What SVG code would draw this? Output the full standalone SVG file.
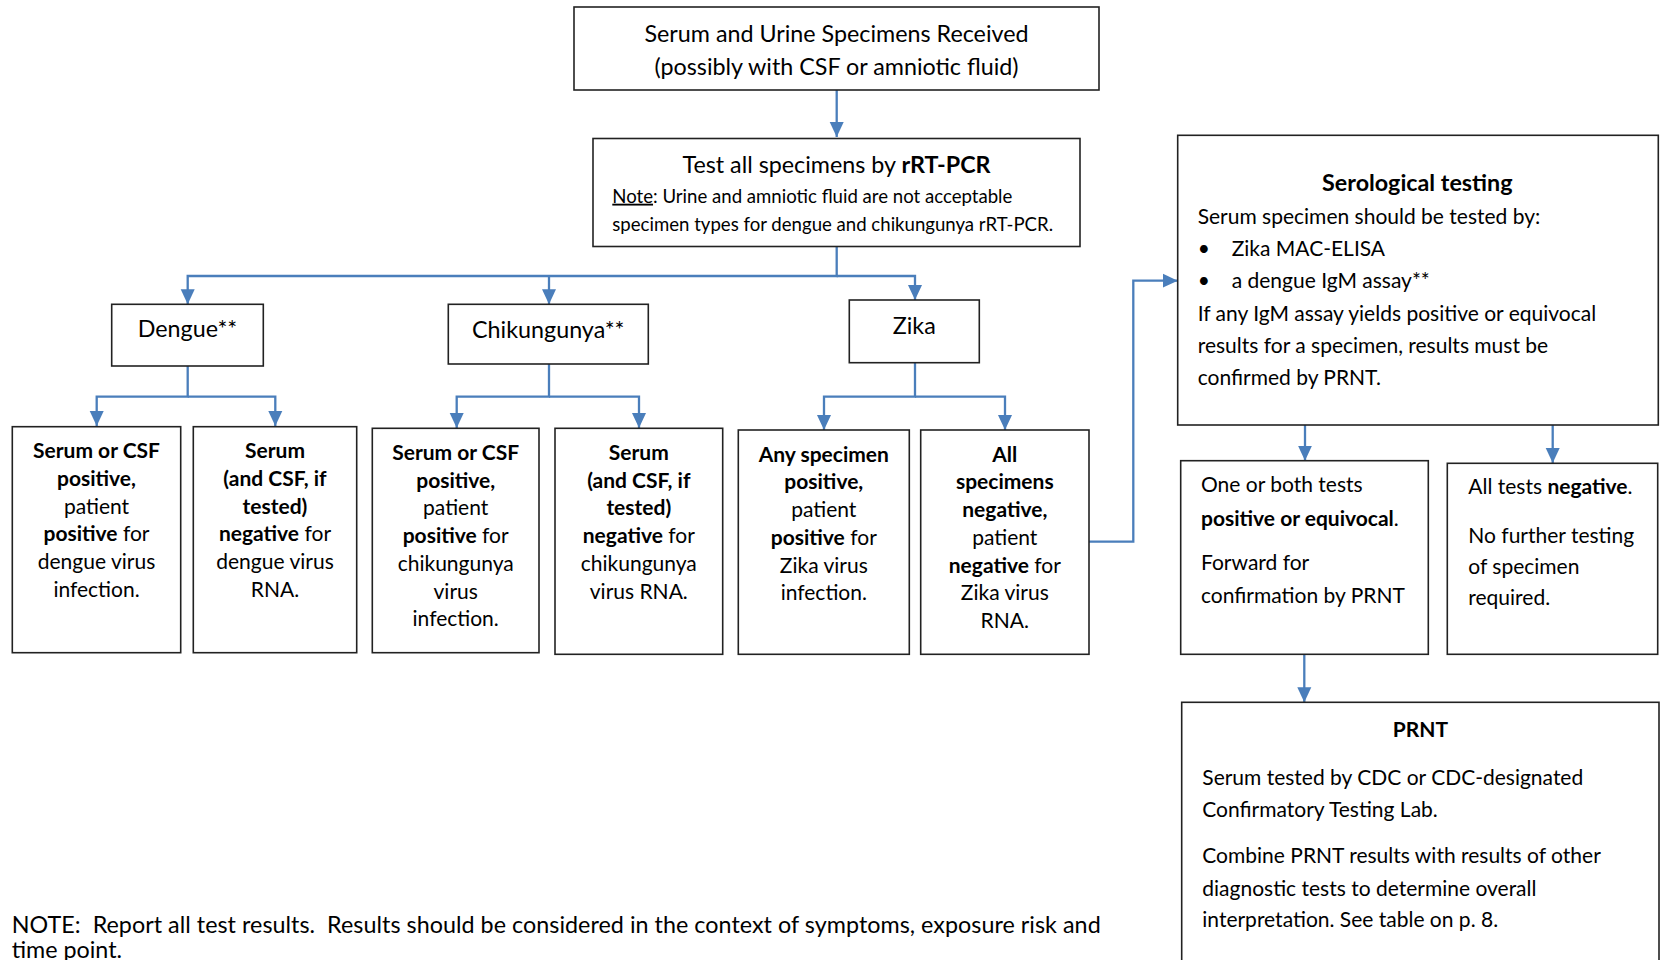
<svg xmlns="http://www.w3.org/2000/svg" width="1660" height="960" viewBox="0 0 1660 960">
<defs>
<marker id="ah" markerUnits="userSpaceOnUse" markerWidth="15" markerHeight="15" refX="15" refY="7.5" orient="auto" viewBox="0 0 15 15"><path d="M0,0.5 L15,7.5 L0,14.5 z" fill="#4a7ebb"/></marker>
</defs>
<style>
.box{fill:#fff;stroke:#222;stroke-width:1.6}
.c{fill:none;stroke:#4a7ebb;stroke-width:2.3}
text{font-family:Lato,"Open Sans","Liberation Sans",sans-serif;fill:#000}
.L{font-size:23.3px}
.M{font-size:21px}
.S{font-size:18.6px}
.mid{text-anchor:middle}
.b{font-weight:700}
</style>
<rect width="1660" height="960" fill="#fff"/>

<g id="connectors">
<path class="c" d="M836.7,90 V137" marker-end="url(#ah)"/>
<path class="c" d="M836.7,246.7 V276 H187.7 V304.3" marker-end="url(#ah)"/>
<path class="c" d="M549,276 V304.3" marker-end="url(#ah)"/>
<path class="c" d="M836.7,276 H915 V300" marker-end="url(#ah)"/>
<path class="c" d="M187.7,366 V396.7 H96.7 V426" marker-end="url(#ah)"/>
<path class="c" d="M187.7,396.7 H275.3 V426" marker-end="url(#ah)"/>
<path class="c" d="M549,364 V396.7 H456.7 V428" marker-end="url(#ah)"/>
<path class="c" d="M549,396.7 H639 V428" marker-end="url(#ah)"/>
<path class="c" d="M915,362.7 V396.7 H824 V430" marker-end="url(#ah)"/>
<path class="c" d="M915,396.7 H1005 V430" marker-end="url(#ah)"/>
<path class="c" d="M1089,541.7 H1133.3 V280.7 H1177.7" marker-end="url(#ah)"/>
<path class="c" d="M1305,425 V460.7" marker-end="url(#ah)"/>
<path class="c" d="M1552.7,425 V463" marker-end="url(#ah)"/>
<path class="c" d="M1304.3,654.3 V702.3" marker-end="url(#ah)"/>
</g>

<g id="received">
<rect class="box" x="574" y="7" width="525" height="83"/>
<text class="L mid" x="836.5" y="41.7">Serum and Urine Specimens Received</text>
<text class="L mid" x="836.5" y="75">(possibly with CSF or amniotic fluid)</text>
</g>

<g id="rtpcr">
<rect class="box" x="593" y="138.5" width="487" height="108"/>
<text class="L mid" x="836.5" y="172.7">Test all specimens by <tspan class="b">rRT-PCR</tspan></text>
<text class="S" x="612.3" y="202.7"><tspan text-decoration="underline">Note</tspan>: Urine and amniotic fluid are not acceptable</text>
<text class="S" x="612.3" y="230.7">specimen types for dengue and chikungunya rRT-PCR.</text>
</g>

<g id="dengue">
<rect class="box" x="111.7" y="304.3" width="151.6" height="61.7"/>
<text class="L mid" x="187.5" y="337.3">Dengue**</text>
</g>

<g id="chikungunya">
<rect class="box" x="448.3" y="304.3" width="200" height="59.7"/>
<text class="L mid" x="548.3" y="338.3">Chikungunya**</text>
</g>

<g id="zika">
<rect class="box" x="849.3" y="300" width="130" height="62.7"/>
<text class="L mid" x="914.3" y="334.3">Zika</text>
</g>

<g id="dengue-pos">
<rect class="box" x="12.3" y="426.7" width="168.4" height="226"/>
<text class="M mid" x="96.5" y="458.3"><tspan class="b">Serum or CSF</tspan><tspan x="96.5" dy="27.7" class="b">positive,</tspan><tspan x="96.5" dy="27.7">patient</tspan><tspan x="96.5" dy="27.7"><tspan class="b">positive</tspan> for</tspan><tspan x="96.5" dy="27.7">dengue virus</tspan><tspan x="96.5" dy="27.7">infection.</tspan></text>
</g>

<g id="dengue-neg">
<rect class="box" x="193.3" y="426.7" width="163.4" height="226"/>
<text class="M mid" x="275" y="458.3"><tspan class="b">Serum</tspan><tspan x="275" dy="27.7" class="b">(and CSF, if</tspan><tspan x="275" dy="27.7" class="b">tested)</tspan><tspan x="275" dy="27.7"><tspan class="b">negative</tspan> for</tspan><tspan x="275" dy="27.7">dengue virus</tspan><tspan x="275" dy="27.7">RNA.</tspan></text>
</g>

<g id="chik-pos">
<rect class="box" x="372.3" y="428.3" width="166.7" height="224.4"/>
<text class="M mid" x="455.7" y="460"><tspan class="b">Serum or CSF</tspan><tspan x="455.7" dy="27.7" class="b">positive,</tspan><tspan x="455.7" dy="27.7">patient</tspan><tspan x="455.7" dy="27.7"><tspan class="b">positive</tspan> for</tspan><tspan x="455.7" dy="27.7">chikungunya</tspan><tspan x="455.7" dy="27.7">virus</tspan><tspan x="455.7" dy="27.7">infection.</tspan></text>
</g>

<g id="chik-neg">
<rect class="box" x="555" y="428.3" width="167.7" height="226"/>
<text class="M mid" x="638.8" y="460"><tspan class="b">Serum</tspan><tspan x="638.8" dy="27.7" class="b">(and CSF, if</tspan><tspan x="638.8" dy="27.7" class="b">tested)</tspan><tspan x="638.8" dy="27.7"><tspan class="b">negative</tspan> for</tspan><tspan x="638.8" dy="27.7">chikungunya</tspan><tspan x="638.8" dy="27.7">virus RNA.</tspan></text>
</g>

<g id="zika-pos">
<rect class="box" x="738.3" y="430" width="171" height="224.3"/>
<text class="M mid" x="823.8" y="461.7"><tspan class="b">Any specimen</tspan><tspan x="823.8" dy="27.7" class="b">positive,</tspan><tspan x="823.8" dy="27.7">patient</tspan><tspan x="823.8" dy="27.7"><tspan class="b">positive</tspan> for</tspan><tspan x="823.8" dy="27.7">Zika virus</tspan><tspan x="823.8" dy="27.7">infection.</tspan></text>
</g>

<g id="zika-neg">
<rect class="box" x="920.7" y="430" width="168.3" height="224.3"/>
<text class="M mid" x="1004.8" y="461.7"><tspan class="b">All</tspan><tspan x="1004.8" dy="27.7" class="b">specimens</tspan><tspan x="1004.8" dy="27.7" class="b">negative,</tspan><tspan x="1004.8" dy="27.7">patient</tspan><tspan x="1004.8" dy="27.7"><tspan class="b">negative</tspan> for</tspan><tspan x="1004.8" dy="27.7">Zika virus</tspan><tspan x="1004.8" dy="27.7">RNA.</tspan></text>
</g>

<g id="serology">
<rect class="box" x="1177.7" y="135.3" width="480.6" height="289.7"/>
<text class="L mid b" x="1417.3" y="190.5">Serological testing</text>
<text class="M" x="1197.7" y="224">Serum specimen should be tested by:</text>
<text class="M" x="1197.7" y="256">•</text>
<text class="M" x="1231.7" y="256">Zika MAC-ELISA</text>
<text class="M" x="1197.7" y="288">•</text>
<text class="M" x="1231.7" y="288">a dengue IgM assay**</text>
<text class="M" x="1197.7" y="320.5">If any IgM assay yields positive or equivocal</text>
<text class="M" x="1197.7" y="352.5">results for a specimen, results must be</text>
<text class="M" x="1197.7" y="385">confirmed by PRNT.</text>
</g>

<g id="sero-pos">
<rect class="box" x="1180.7" y="460.7" width="247.6" height="193.6"/>
<text class="M" x="1201" y="491.7">One or both tests</text>
<text class="M" x="1201" y="526"><tspan class="b">positive or equivocal</tspan>.</text>
<text class="M" x="1201" y="570">Forward for</text>
<text class="M" x="1201" y="602.7">confirmation by PRNT</text>
</g>

<g id="sero-neg">
<rect class="box" x="1447.3" y="463.3" width="210.4" height="191"/>
<text class="M" x="1468.3" y="494">All tests <tspan class="b">negative</tspan>.</text>
<text class="M" x="1468.3" y="542.7">No further testing</text>
<text class="M" x="1468.3" y="574.3">of specimen</text>
<text class="M" x="1468.3" y="605">required.</text>
</g>

<g id="prnt">
<rect class="box" x="1181.7" y="702.3" width="477.3" height="280"/>
<text class="M mid b" x="1420.5" y="736.7">PRNT</text>
<text class="M" x="1202.3" y="785">Serum tested by CDC or CDC-designated</text>
<text class="M" x="1202.3" y="816.7">Confirmatory Testing Lab.</text>
<text class="M" x="1202.3" y="863.3">Combine PRNT results with results of other</text>
<text class="M" x="1202.3" y="895.7">diagnostic tests to determine overall</text>
<text class="M" x="1202.3" y="927.3">interpretation. See table on p. 8.</text>
</g>

<g id="footnote">
<text class="L" x="11.7" y="932.7" xml:space="preserve" textLength="1089" lengthAdjust="spacing">NOTE:  Report all test results.  Results should be considered in the context of symptoms, exposure risk and</text>
<text class="L" x="11.7" y="958">time point.</text>
</g>
</svg>
